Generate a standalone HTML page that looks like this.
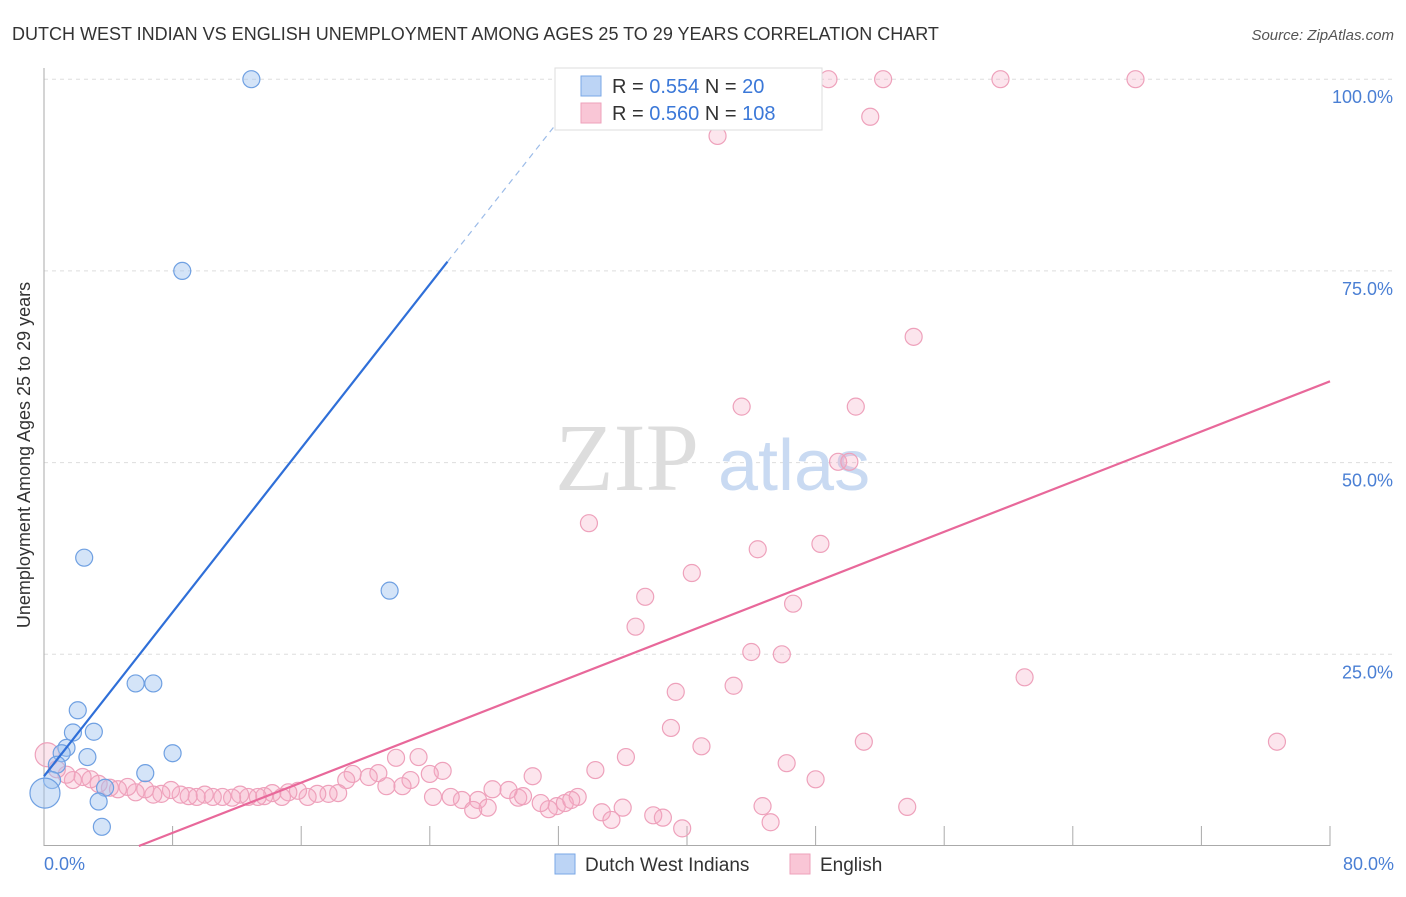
<!DOCTYPE html>
<html><head><meta charset="utf-8"><style>
body{margin:0;background:#fff;font-family:"Liberation Sans",sans-serif}
</style></head><body>
<svg width="1406" height="892" viewBox="0 0 1406 892" xmlns="http://www.w3.org/2000/svg">
<text x="12" y="40" font-size="18" fill="#333">DUTCH WEST INDIAN VS ENGLISH UNEMPLOYMENT AMONG AGES 25 TO 29 YEARS CORRELATION CHART</text>
<text x="1394" y="40" font-size="15" fill="#555" font-style="italic" text-anchor="end">Source: ZipAtlas.com</text>
<g id="grid"></g>
<g><text x="555" y="490" font-size="96" fill="#ddd" font-family="Liberation Serif,serif">ZIP</text><text x="718" y="490" font-size="72" fill="#c9daf2">atlas</text></g>
<g id="axes"></g>
<g id="pts"></g>
<g id="lines"></g>
<text x="30" y="455" font-size="18" fill="#333" text-anchor="middle" transform="rotate(-90 30 455)">Unemployment Among Ages 25 to 29 years</text>
<text x="44" y="870" font-size="18" fill="#4a7fd4">0.0%</text>
<text x="1394" y="870" font-size="18" fill="#4a7fd4" text-anchor="end">80.0%</text>
<g>
<rect x="555" y="68" width="267" height="62" fill="#fff" stroke="#ddd"/>
<rect x="581" y="76" width="20" height="20" fill="#bcd4f5" stroke="#7aa7e6"/>
<rect x="581" y="103" width="20" height="20" fill="#f9c6d6" stroke="#eea1bb"/>
<text x="612" y="93" font-size="20" fill="#333">R = <tspan fill="#3b78d8">0.554</tspan>   N =  <tspan fill="#3b78d8"> 20</tspan></text>
<text x="612" y="120" font-size="20" fill="#333">R = <tspan fill="#3b78d8">0.560</tspan>   N = <tspan fill="#3b78d8">108</tspan></text>
</g>
<g>
<rect x="555" y="854" width="20" height="20" fill="#bcd4f5" stroke="#7aa7e6"/>
<text x="585" y="871" font-size="19" fill="#333">Dutch West Indians</text>
<rect x="790" y="854" width="20" height="20" fill="#f9c6d6" stroke="#eea1bb"/>
<text x="820" y="871" font-size="19" fill="#333">English</text>
</g>
</svg>
<script>
const yTicks=[25,50,75,100];
const yTickLabels=["25.0%","50.0%","75.0%","100.0%"];
const xTicks=[0,8,16,24,32,40,48,56,64,72,80];
const blueX=[12.9,8.6,2.5,21.5,5.7,6.8,2.1,1.8,3.1,1.4,2.7,8.0,1.1,0.8,6.3,0.5,3.8,3.4,3.6,0.06];
const blueY=[100,75,37.6,33.3,21.2,21.2,17.7,14.8,14.9,12.8,11.6,12.1,12.1,10.6,9.5,8.6,7.6,5.8,2.5,6.9];
const pinkX=[41.2,48.8,52.2,59.5,67.9,51.4,41.9,54.1,43.4,50.5,49.4,50.1,33.9,44.4,48.3,40.3,37.4,46.6,36.8,44.0,45.9,61.0,39.3,42.9,39.0,40.9,51.0,76.7,36.2,46.2,34.3,48.0,44.7,53.7,45.2,37.9,38.5,39.7,36.0,34.7,35.3,33.2,31.9,31.4,30.4,29.5,29.8,27.9,27.0,26.0,25.3,24.8,24.2,23.3,21.9,22.8,22.3,21.3,20.8,20.2,19.2,18.8,18.3,17.7,17.0,16.4,15.8,15.2,14.8,14.2,13.7,13.3,12.7,12.2,11.7,11.1,10.5,10.0,9.5,9.0,8.5,7.9,7.3,6.8,6.3,5.7,5.2,4.6,4.1,3.4,2.9,2.4,1.8,1.4,0.8,0.2,24.0,28.9,27.6,26.7,32.4,32.8,30.9];
const pinkY=[100,100,100,100,100,95.1,92.6,66.4,57.3,57.3,50.1,50.1,42.1,38.7,39.4,35.6,32.5,31.6,28.6,25.3,25.0,22.0,20.1,20.9,15.4,13.0,13.6,13.6,11.6,10.8,9.9,8.7,5.2,5.1,3.1,4.0,3.7,2.3,5.0,4.4,3.4,6.4,5.2,4.8,9.1,6.3,6.5,7.4,6.0,6.0,6.4,9.8,6.4,11.6,11.5,8.6,7.8,7.8,9.5,9.0,9.4,8.6,6.9,6.8,6.8,6.4,7.2,7.0,6.4,6.9,6.5,6.4,6.4,6.7,6.3,6.4,6.4,6.7,6.4,6.5,6.7,7.3,6.8,6.7,7.4,7.0,7.7,7.4,7.6,8.1,8.7,9.0,8.6,9.3,10.0,11.9,9.4,7.3,5.0,4.7,5.6,6.0,5.6];
const blueLine=[[0,9.1],[25.1,76.2]];
const blueDash=[[25.1,76.2],[31.8,94]];
const pinkLine=[[5.9,0],[80,60.6]];
const X=v=>44+v*16.075, Y=v=>846-v*7.668;
const NS="http://www.w3.org/2000/svg";
function mk(t,a,p){const e=document.createElementNS(NS,t);for(const k in a)e.setAttribute(k,a[k]);p.appendChild(e);return e;}
const grid=document.getElementById('grid'),axes=document.getElementById('axes'),pts=document.getElementById('pts'),lines=document.getElementById('lines');
yTicks.forEach((t,i)=>{
 const l=mk('line',{x1:44,x2:1394,y1:Y(t),y2:Y(t),stroke:'#ddd','stroke-dasharray':'4,4'},grid);
 
 
 const tx=mk('text',{x:1393,y:Y(t)+24,'font-size':18,fill:'#4a7fd4','text-anchor':'end'},axes);
 tx.textContent=yTickLabels[i];
 
 
});
let a=mk('line',{x1:44,x2:44,y1:68,y2:846,stroke:'#aaa'},axes);


a=mk('line',{x1:44,x2:1330,y1:845.5,y2:845.5,stroke:'#aaa'},axes);


xTicks.forEach(t=>{
 const l=mk('line',{x1:X(t),x2:X(t),y1:826,y2:846,stroke:'#aaa'},axes);
 
 
});
pinkX.forEach((x,i)=>{
 const big=(i===95);
 const c=mk('circle',{cx:X(x),cy:Y(pinkY[i]),r:big?12:8.5,fill:'rgba(246,170,196,0.3)',stroke:'#eea1bb','stroke-width':1.2},pts);
 
 
});
blueX.forEach((x,i)=>{
 const big=(i===19);
 const c=mk('circle',{cx:X(x),cy:Y(blueY[i]),r:big?15:8.5,fill:'rgba(160,195,240,0.45)',stroke:'#6fa0e2','stroke-width':1.2},pts);
 
 
});
let ln=mk('line',{x1:X(blueLine[0][0]),y1:Y(blueLine[0][1]),x2:X(blueLine[1][0]),y2:Y(blueLine[1][1]),stroke:'#2f6fd8','stroke-width':2.2},lines);


ln=mk('line',{x1:X(blueDash[0][0]),y1:Y(blueDash[0][1]),x2:X(blueDash[1][0]),y2:Y(blueDash[1][1]),stroke:'#9bbbe8','stroke-width':1.2,'stroke-dasharray':'6,5'},lines);


ln=mk('line',{x1:X(pinkLine[0][0]),y1:Y(pinkLine[0][1]),x2:X(pinkLine[1][0]),y2:Y(pinkLine[1][1]),stroke:'#e8689a','stroke-width':2.2},lines);


</script>
</body></html>
